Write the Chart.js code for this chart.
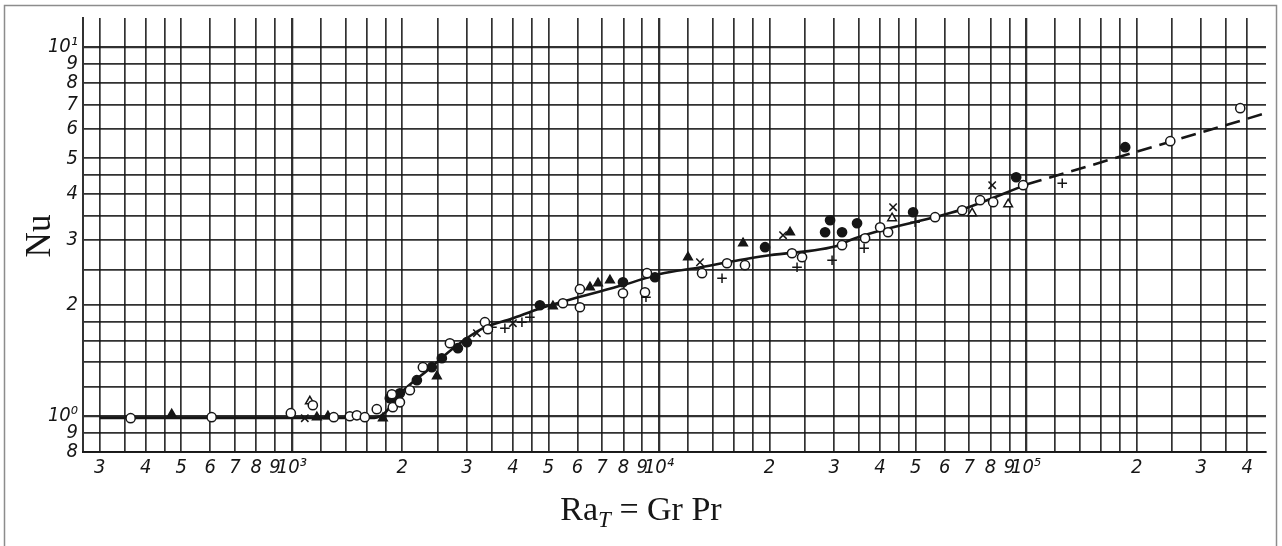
<!DOCTYPE html>
<html>
<head>
<meta charset="utf-8">
<script src="https://cdn.jsdelivr.net/npm/chart.js@4.4.1/dist/chart.umd.min.js"></script>
<style>
  html, body { margin: 0; padding: 0; background: #fff; }
  #wrap { width: 1282px; height: 546px; }
</style>
</head>
<body>
<div id="wrap"><canvas id="nuChart" width="1282" height="546"></canvas></div>
<script>
// lines of the log paper
const xGrid = [300, 350, 400, 450, 500, 600, 700, 800, 900,
  1000, 1200, 1400, 1600, 1800, 2000, 2500, 3000, 3500, 4000, 4500, 5000, 6000, 7000, 8000, 9000,
  10000, 12000, 14000, 16000, 18000, 20000, 25000, 30000, 35000, 40000, 45000, 50000, 60000, 70000, 80000, 90000,
  100000, 120000, 140000, 160000, 180000, 200000, 250000, 300000, 350000, 400000];
const yGrid = [0.8, 0.9, 1, 1.2, 1.4, 1.6, 1.8, 2, 2.5, 3, 3.5, 4, 4.5, 5, 6, 7, 8, 9, 10];

// tick labels
const xLabelVals = [300, 400, 500, 600, 700, 800, 900, 1000, 2000, 3000, 4000, 5000, 6000, 7000, 8000, 9000,
  10000, 20000, 30000, 40000, 50000, 60000, 70000, 80000, 90000, 100000, 200000, 300000, 400000];
const xLabelText = ['3', '4', '5', '6', '7', '8', '9', '10³', '2', '3', '4', '5', '6', '7', '8', '9',
  '10⁴', '2', '3', '4', '5', '6', '7', '8', '9', '10⁵', '2', '3', '4'];
const yLabelVals = [0.8, 0.9, 1, 2, 3, 4, 5, 6, 7, 8, 9, 10];
const yLabelText = ['8', '9', '10⁰', '2', '3', '4', '5', '6', '7', '8', '9', '10¹'];

// fitted curve (solid) and its extrapolation (dashed)
const curveRa = [300, 1000, 1680, 1790, 1970, 2380, 2780, 3310, 3980, 4740, 6020, 8030, 10060, 12900, 16600, 20000, 31100, 33100, 66100, 100600];
const curveNu = [0.99, 0.99, 0.99, 1.02, 1.15, 1.35, 1.54, 1.73, 1.84, 1.96, 2.10, 2.27, 2.43, 2.53, 2.65, 2.73, 2.91, 3.00, 3.62, 4.25];
const dashRa = [100600, 448000];
const dashNu = [4.25, 6.62];

// measured points
const openCircRa = [364, 605, 994, 1141, 1301, 1439, 1504, 1581, 1704, 1873, 1884, 1970, 2097, 2275, 2695, 3357, 3420, 5475, 6091, 6091,
  7979, 9159, 9275, 13100, 15320, 17150, 23030, 24530, 31520, 36420, 40020, 42070, 56490, 66940, 74930, 81320, 98130, 246900, 382900];
const openCircNu = [0.988, 0.994, 1.019, 1.071, 0.994, 1.0, 1.006, 0.994, 1.045, 1.147, 1.058, 1.091, 1.176, 1.358, 1.577, 1.798, 1.721, 2.024, 2.209, 1.974,
  2.154, 2.168, 2.441, 2.441, 2.598, 2.566, 2.765, 2.697, 2.907, 3.036, 3.252, 3.152, 3.462, 3.616, 3.85, 3.802, 4.227, 5.563, 6.835];
const fullCircRa = [1849, 1970, 2191, 2406, 2562, 2834, 2998, 4739, 7979, 9752, 19450, 28340, 29240, 31520, 34630, 49220, 93930, 186100];
const fullCircNu = [1.119, 1.154, 1.252, 1.358, 1.436, 1.529, 1.587, 1.999, 2.307, 2.38, 2.871, 3.152, 3.397, 3.152, 3.334, 3.571, 4.443, 5.358];
const fullTriRa = [471, 1170, 1254, 1770, 2484, 5142, 6486, 6822, 7354, 11995, 16940, 22750];
const fullTriNu = [1.012, 0.994, 1.0, 0.988, 1.284, 1.987, 2.237, 2.293, 2.336, 2.697, 2.943, 3.152];
const openTriRa = [1120, 43140, 71270, 89330];
const openTriNu = [1.098, 3.44, 3.549, 3.754];
const crossRa = [1085, 3192, 4001, 12930, 21770, 43410, 80810];
const crossNu = [0.988, 1.679, 1.787, 2.614, 3.094, 3.685, 4.227];
const plusRa = [3508, 3805, 4234, 4451, 9218, 14850, 23770, 29610, 36200, 49840, 125400];
const plusNu = [1.743, 1.732, 1.798, 1.855, 2.101, 2.366, 2.534, 2.647, 2.853, 3.356, 4.28];

const pts = (xs, ys) => xs.map((x, i) => ({ x: x, y: ys[i] }));
const lab = (vals, txt) => Object.fromEntries(vals.map((v, i) => [v, txt[i]]));
const xLab = lab(xLabelVals, xLabelText);
const yLab = lab(yLabelVals, yLabelText);

const ink = '#161616';
const gridInk = 'rgba(20,20,20,0.88)';
const tickFont = { family: '"DejaVu Sans Condensed", "DejaVu Sans", sans-serif', size: 20, style: 'italic' };

const marker = (label, data, style, fill, extra) => Object.assign({
  label: label, data: data, pointStyle: style, pointRadius: 4.6, pointBorderWidth: 1.5,
  pointBackgroundColor: fill, pointBorderColor: ink, showLine: false, order: 1
}, extra || {});

// white sheet, grey frame and the two axis titles
const paper = {
  id: 'paper',
  beforeDraw(chart) {
    const ctx = chart.ctx;
    ctx.save();
    ctx.fillStyle = '#fff';
    ctx.fillRect(0, 0, chart.width, chart.height);
    ctx.strokeStyle = '#8c8c8c';
    ctx.lineWidth = 1.5;
    ctx.strokeRect(4.5, 5.5, 1272, 580);
    ctx.restore();
  },
  afterDraw(chart) {
    const ctx = chart.ctx;
    ctx.save();
    ctx.fillStyle = ink;
    // Nu
    ctx.translate(39, 236);
    ctx.rotate(-Math.PI / 2);
    ctx.font = '35px "Liberation Serif", serif';
    ctx.textAlign = 'center';
    ctx.textBaseline = 'alphabetic';
    ctx.fillText('Nu', 0, 11);
    ctx.setTransform(1, 0, 0, 1, 0, 0);
    // Ra_T = Gr Pr
    const big = '34px "Liberation Serif", serif';
    const sub = 'italic 23px "Liberation Serif", serif';
    ctx.textAlign = 'left';
    ctx.font = big;
    const w1 = ctx.measureText('Ra').width;
    const w3 = ctx.measureText(' = Gr Pr').width;
    ctx.font = sub;
    const w2 = ctx.measureText('T').width;
    let x = 641 - (w1 + w2 + w3) / 2;
    const base = 520;
    ctx.font = big;
    ctx.fillText('Ra', x, base);
    x += w1;
    ctx.font = sub;
    ctx.fillText('T', x, base + 7);
    x += w2;
    ctx.font = big;
    ctx.fillText(' = Gr Pr', x, base);
    ctx.restore();
  }
};

new Chart(document.getElementById('nuChart'), {
  type: 'scatter',
  data: {
    datasets: [
      marker('open circles', pts(openCircRa, openCircNu), 'circle', '#fff'),
      marker('filled circles', pts(fullCircRa, fullCircNu), 'circle', ink),
      marker('filled triangles', pts(fullTriRa, fullTriNu), 'triangle', ink, { pointRadius: 5 }),
      marker('open triangles', pts(openTriRa, openTriNu), 'triangle', '#fff', { pointRadius: 5 }),
      marker('crosses', pts(crossRa, crossNu), 'crossRot', ink, { pointRadius: 5.2 }),
      marker('plus', pts(plusRa, plusNu), 'cross', ink, { pointRadius: 4.8 }),
      {
        label: 'curve', data: pts(curveRa, curveNu), showLine: true, pointRadius: 0,
        borderColor: ink, borderWidth: 2.6, cubicInterpolationMode: 'monotone', order: 10
      },
      {
        label: 'extrapolation', data: pts(dashRa, dashNu), showLine: true, pointRadius: 0,
        borderColor: ink, borderWidth: 2.6, borderDash: [15, 8], order: 10
      }
    ]
  },
  options: {
    responsive: false,
    animation: false,
    devicePixelRatio: 1,
    layout: { padding: { top: 18, right: 16, bottom: 0, left: 0 } },
    plugins: { legend: { display: false }, tooltip: { enabled: false } },
    scales: {
      x: {
        type: 'logarithmic', min: 270, max: 450000,
        afterBuildTicks: s => { s.ticks = xGrid.map(v => ({ value: v })); },
        afterFit: s => { s.height = 94; },
        ticks: {
          autoSkip: false, maxRotation: 0, minRotation: 0, padding: 4,
          color: ink, font: tickFont,
          callback: v => xLab[v] || ''
        },
        grid: {
          color: gridInk, drawTicks: false,
          lineWidth: c => ([1000, 10000, 100000].includes(c.tick && c.tick.value) ? 2.3 : 1.7)
        },
        border: { display: true, color: gridInk, width: 2 }
      },
      y: {
        type: 'logarithmic', min: 0.8, max: 12,
        afterBuildTicks: s => { s.ticks = yGrid.map(v => ({ value: v })); },
        afterFit: s => { s.width = 83; },
        ticks: {
          autoSkip: false, padding: 5,
          color: ink, font: tickFont,
          callback: v => yLab[v] || ''
        },
        grid: {
          color: gridInk, drawTicks: false,
          lineWidth: c => ([1, 10].includes(c.tick && c.tick.value) ? 2.3 : 1.7)
        },
        border: { display: true, color: gridInk, width: 2 }
      }
    }
  },
  plugins: [paper]
});
</script>
</body>
</html>
